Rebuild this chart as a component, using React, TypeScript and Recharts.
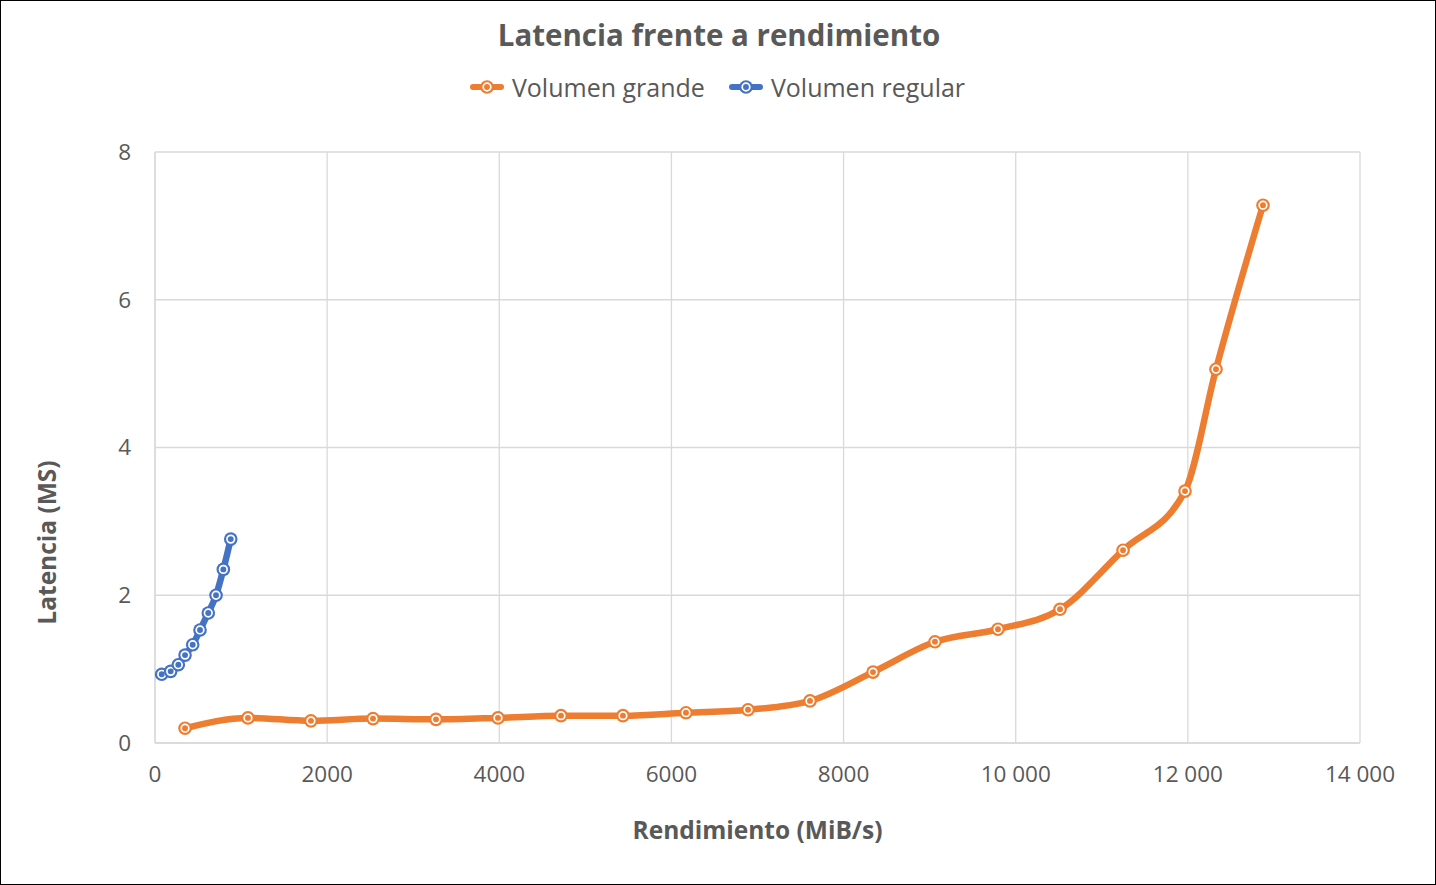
import React from 'react';
import {
  LineChart,
  Line,
  XAxis,
  YAxis,
  CartesianGrid,
  Legend,
} from 'recharts';

// Volumen grande
const grandeX = [349, 1080, 1812, 2533, 3265, 3985, 4717, 5437, 6169, 6890, 7610, 8342, 9062, 9794, 10515, 11247, 11967, 12327, 12873];
const grandeY = [0.2, 0.34, 0.3, 0.33, 0.32, 0.34, 0.37, 0.37, 0.41, 0.45, 0.57, 0.96, 1.37, 1.54, 1.81, 2.61, 3.41, 5.06, 7.28];

// Volumen regular
const regularX = [78, 182, 271, 349, 438, 523, 619, 709, 794, 880];
const regularY = [0.93, 0.97, 1.06, 1.19, 1.33, 1.53, 1.76, 2.0, 2.35, 2.76];

const xTicks = [0, 2000, 4000, 6000, 8000, 10000, 12000, 14000];
const yTicks = [0, 2, 4, 6, 8];

const ORANGE = '#ED7D31';
const BLUE = '#4472C4';
const TEXT = '#595959';
const GRID = '#d9d9d9';
const FONT = '"Open Sans", "Noto Sans", sans-serif';

const grande = grandeX.map((x, i) => ({ x, y: grandeY[i] }));
const regular = regularX.map((x, i) => ({ x, y: regularY[i] }));

const fmtX = (v: number) =>
  v >= 10000 ? String(v).replace(/\B(?=(\d{3})+(?!\d))/g, ' ') : String(v);

const makeDot = (color: string) => (props: any) => {
  const { cx, cy, index } = props;
  if (cx == null || cy == null) return <g key={index} />;
  return (
    <g key={index}>
      <circle cx={cx} cy={cy} r={6.8} fill={color} />
      <circle cx={cx} cy={cy} r={3.8} fill={color} stroke="#fff" strokeWidth={1.7} />
    </g>
  );
};

const series = [
  { name: 'Volumen grande', color: ORANGE },
  { name: 'Volumen regular', color: BLUE },
];

const LegendContent = () => (
  <div style={{ display: 'flex', justifyContent: 'center', gap: 24, fontFamily: FONT }}>
    {series.map((s) => (
      <div key={s.name} style={{ display: 'flex', alignItems: 'center' }}>
        <svg width={34} height={16} style={{ marginRight: 8 }}>
          <line x1={3} y1={8} x2={31} y2={8} stroke={s.color} strokeWidth={6} strokeLinecap="round" />
          <circle cx={17} cy={8} r={6.8} fill={s.color} />
          <circle cx={17} cy={8} r={3.8} fill={s.color} stroke="#fff" strokeWidth={1.7} />
        </svg>
        <span style={{ fontSize: 25, color: TEXT }}>{s.name}</span>
      </div>
    ))}
  </div>
);

export default function App() {
  return (
    <div
      style={{
        position: 'absolute',
        left: 0,
        top: 0,
        width: 1436,
        height: 885,
        background: '#fff',
        border: '1.5px solid #000',
        boxSizing: 'border-box',
        fontFamily: FONT,
      }}
    >
      <div
        style={{
          position: 'absolute',
          top: 13,
          left: 0,
          width: 1436,
          textAlign: 'center',
          fontSize: 29.5,
          fontWeight: 700,
          color: TEXT,
        }}
      >
        Latencia frente a rendimiento
      </div>
      <div style={{ position: 'absolute', left: -1.5, top: -1.5 }}>
        <LineChart width={1436} height={885} margin={{ top: 152, right: 76, left: 0, bottom: 82 }}>
          <CartesianGrid stroke={GRID} strokeWidth={1.3} />
          <XAxis
            type="number"
            dataKey="x"
            domain={[0, 14000]}
            ticks={xTicks}
            tickFormatter={fmtX}
            allowDataOverflow
            height={60}
            tickLine={false}
            tickSize={6}
            tickMargin={17}
            axisLine={{ stroke: GRID, strokeWidth: 1.3 }}
            tick={{ fontSize: 22.5, fill: TEXT, fontFamily: FONT }}
            label={{
              value: 'Rendimiento (MiB/s)',
              position: 'bottom',
              offset: 19,
              fill: TEXT,
              fontSize: 24.5,
              fontWeight: 700,
              fontFamily: FONT,
            }}
          />
          <YAxis
            type="number"
            dataKey="y"
            domain={[0, 8]}
            ticks={yTicks}
            width={155}
            tickLine={false}
            tickSize={6}
            tickMargin={18}
            axisLine={{ stroke: GRID, strokeWidth: 1.3 }}
            tick={{ fontSize: 22.5, fill: TEXT, fontFamily: FONT }}
            label={{
              value: 'Latencia (MS)',
              angle: -90,
              position: 'insideLeft',
              dx: 42,
              dy: 95,
              fill: TEXT,
              fontSize: 24.5,
              fontWeight: 700,
              fontFamily: FONT,
              textAnchor: 'middle',
            }}
          />
          <Legend
            layout="horizontal"
            verticalAlign="middle"
            align="center"
            wrapperStyle={{ top: 70, left: 0, width: 1436 }}
            content={<LegendContent />}
          />
          <Line
            data={grande}
            dataKey="y"
            name="Volumen grande"
            type="monotone"
            stroke={ORANGE}
            strokeWidth={6.5}
            dot={makeDot(ORANGE)}
            activeDot={false}
            isAnimationActive={false}
          />
          <Line
            data={regular}
            dataKey="y"
            name="Volumen regular"
            type="monotone"
            stroke={BLUE}
            strokeWidth={6.5}
            dot={makeDot(BLUE)}
            activeDot={false}
            isAnimationActive={false}
          />
        </LineChart>
      </div>
    </div>
  );
}
